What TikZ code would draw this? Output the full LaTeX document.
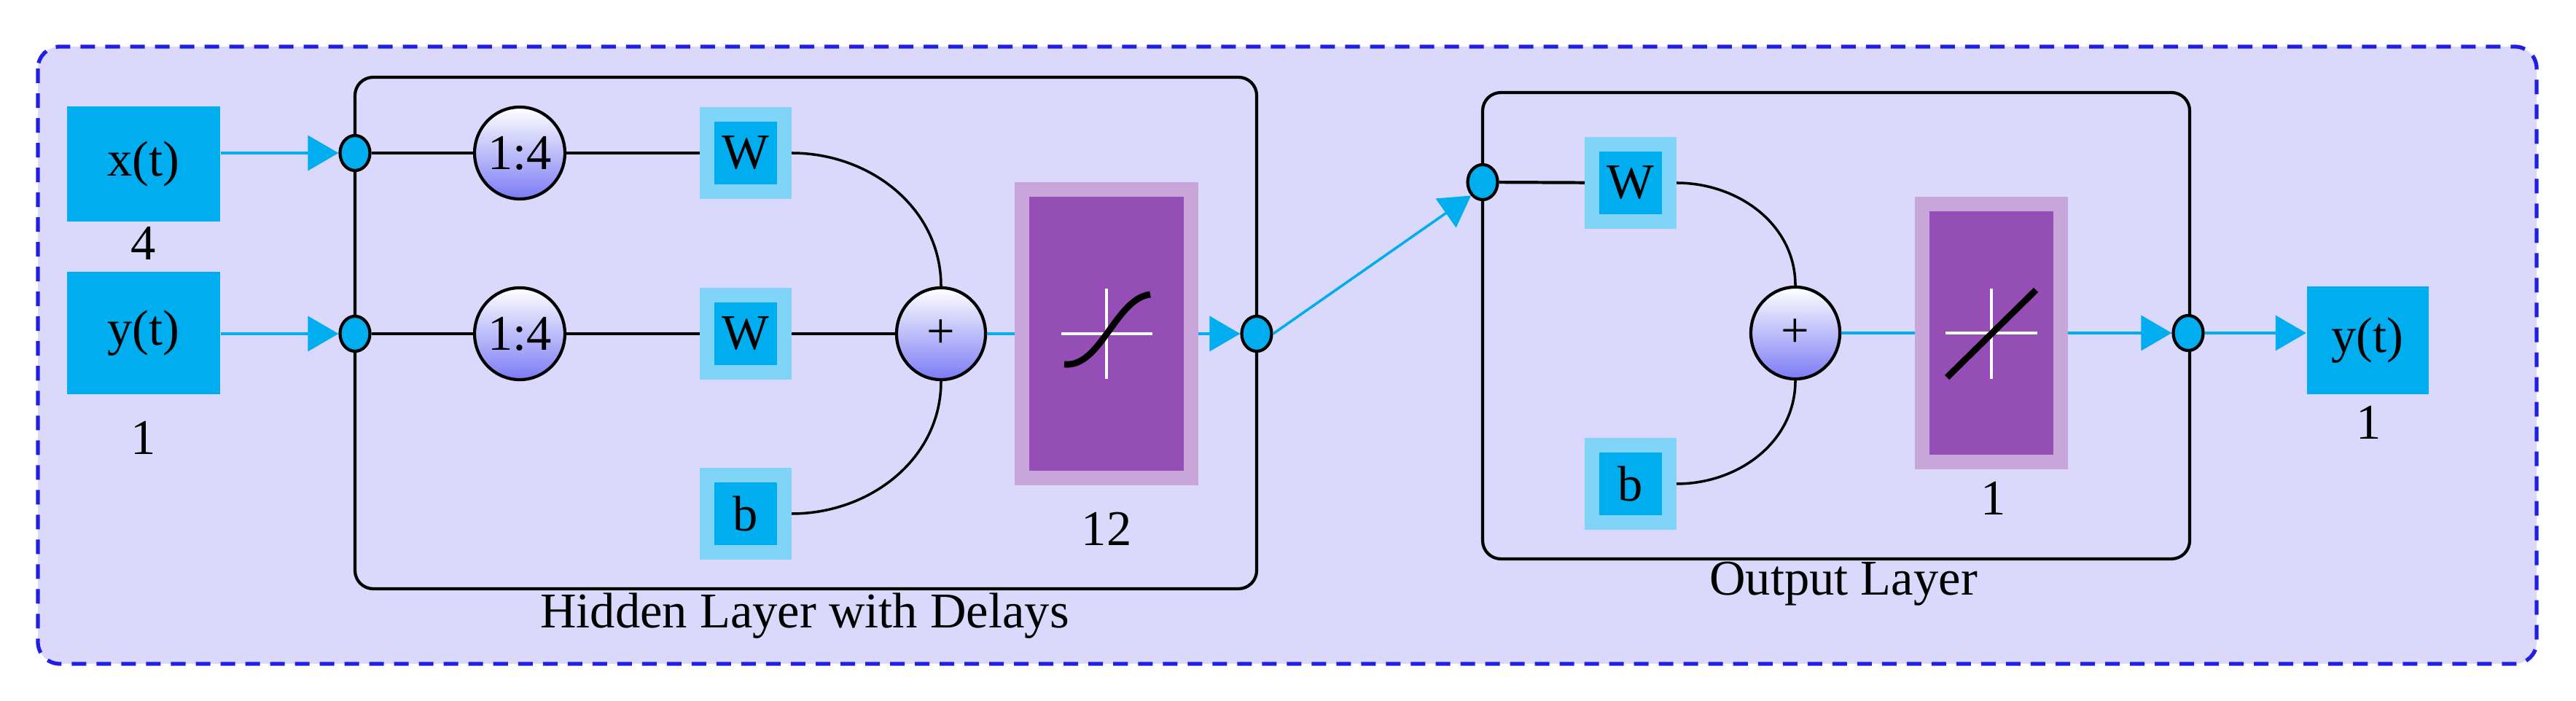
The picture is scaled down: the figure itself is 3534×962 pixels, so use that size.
\documentclass[tikz,border=0pt]{standalone}
\usepackage{fontspec}
\setmainfont{Liberation Serif}
\usetikzlibrary{arrows.meta,shapes.geometric}
\definecolor{bg}{HTML}{DAD9FC}
\definecolor{dashblue}{HTML}{1F1FE6}
\definecolor{cy}{HTML}{00ADEF}
\definecolor{lcy}{HTML}{80D4F8}
\definecolor{lpur}{HTML}{C9A6DA}
\definecolor{pur}{HTML}{954EB5}
\definecolor{shb}{HTML}{7B7BF5}
\tikzset{
  lbl/.style={font=\fontsize{19.5}{22}\selectfont},
  io/.style={fill=cy,draw=none,minimum width=2.1cm,lbl,inner sep=0},
  port/.style={ellipse,draw=black,line width=1.2pt,fill=cy,minimum width=0.41cm,minimum height=0.48cm,inner sep=0},
  op/.style={ellipse,draw=black,line width=1.2pt,top color=white,bottom color=shb,minimum width=1.22cm,minimum height=1.26cm,inner sep=0,lbl},
  wb/.style={fill=cy,draw=lcy,line width=0.2cm,minimum size=1.06cm,inner sep=0,lbl},
  ar/.style={cy,line width=1pt,-{Triangle[length=0.42cm,width=0.48cm]}},
  cl/.style={cy,line width=1pt},
  bl/.style={black,line width=1.2pt},
  layer/.style={draw=black,line width=1.2pt,rounded corners=0.25cm},
}
\begin{document}
\begin{tikzpicture}[x=0.01cm,y=-0.01cm]
\useasboundingbox (0,0) rectangle (3534,962);
\draw[dashblue,fill=bg,dash pattern=on 0.2cm off 0.14cm,line width=1.5pt,rounded corners=0.3cm] (52,64) rectangle (3480,911);
% hidden layer
\draw[layer] (487,106) rectangle (1724,808);
\node[lbl] (hl) at (1104,845) {Hidden Layer with Delays};
\node[io,minimum width=2.1cm,minimum height=1.58cm] (x) at (197,225) {x(t)};
\node[lbl] (x4) at (197,334) {4};
\node[io,minimum width=2.1cm,minimum height=1.68cm] (y) at (197,457) {y(t)};
\node[lbl] (y1) at (197,601) {1};
\node[port] (p1) at (487,210) {};
\node[port] (p2) at (487,458) {};
\node[op] (d1) at (713,210) {1:4};
\node[op] (d2) at (713,458) {1:4};
\node[wb] (w1) at (1023,210) {W};
\node[wb] (w2) at (1023,458) {W};
\node[wb] (b1) at (1023,705) {b};
\node[op] (s1) at (1291,458) {+};
\node[fill=pur,draw=lpur,line width=0.2cm,minimum width=2.31cm,minimum height=3.96cm,inner sep=0] (t1) at (1518,458) {};
\node[lbl] (n12) at (1518,726) {12};
\node[port] (p3) at (1724,458) {};
\draw[white,line width=1pt] (1456,458) -- (1581,458) (1518,396) -- (1518,520);
\draw[black,line width=2.5pt] (1460,500) .. controls (1510,505) and (1530,410) .. (1578,404);
\draw[ar] (x.east |- p1) -- (p1.west);
\draw[ar] (y.east |- p2) -- (p2.west);
\draw[bl] (p1) -- (d1) (d1) -- (w1) (p2) -- (d2) (d2) -- (w2) (w2) -- (s1);
\draw[bl,line width=1pt] (w1.east) to[out=0,in=90] (s1.north);
\draw[bl,line width=1pt] (b1.east) to[out=0,in=-90] (s1.south);
\draw[cl] (s1) -- (t1);
\draw[ar] (t1.east) -- (p3.west);
% output layer
\draw[layer] (2034,127) rectangle (3004,767);
\node[lbl] (ol) at (2529,801) {Output Layer};
\node[port] (q1) at (2034,250) {};
\node[wb] (w3) at (2237,251) {W};
\node[wb] (b3) at (2237,664) {b};
\node[op] (s2) at (2463,457) {+};
\node[fill=pur,draw=lpur,line width=0.2cm,minimum width=1.9cm,minimum height=3.54cm,inner sep=0] (t2) at (2732,457) {};
\node[lbl] (n1) at (2735,684) {1};
\node[port] (q2) at (3002,457) {};
\node[io,minimum width=1.67cm,minimum height=1.47cm] (yo) at (3248,467) {y(t)};
\node[lbl] (yo1) at (3250,580) {1};
\draw[white,line width=1pt] (2669,457) -- (2795,457) (2732,396) -- (2732,520);
\draw[black,line width=2.5pt] (2671,518) -- (2793,398);
\draw[ar] (p3.east) -- (q1.south west);
\draw[bl] (q1) -- (w3);
\draw[bl,line width=1pt] (w3.east) to[out=0,in=90] (s2.north);
\draw[bl,line width=1pt] (b3.east) to[out=0,in=-90] (s2.south);
\draw[cl] (s2) -- (t2);
\draw[ar] (t2.east) -- (q2.west);
\draw[ar] (q2.east) -- (yo.west |- q2);
\end{tikzpicture}
\end{document}
